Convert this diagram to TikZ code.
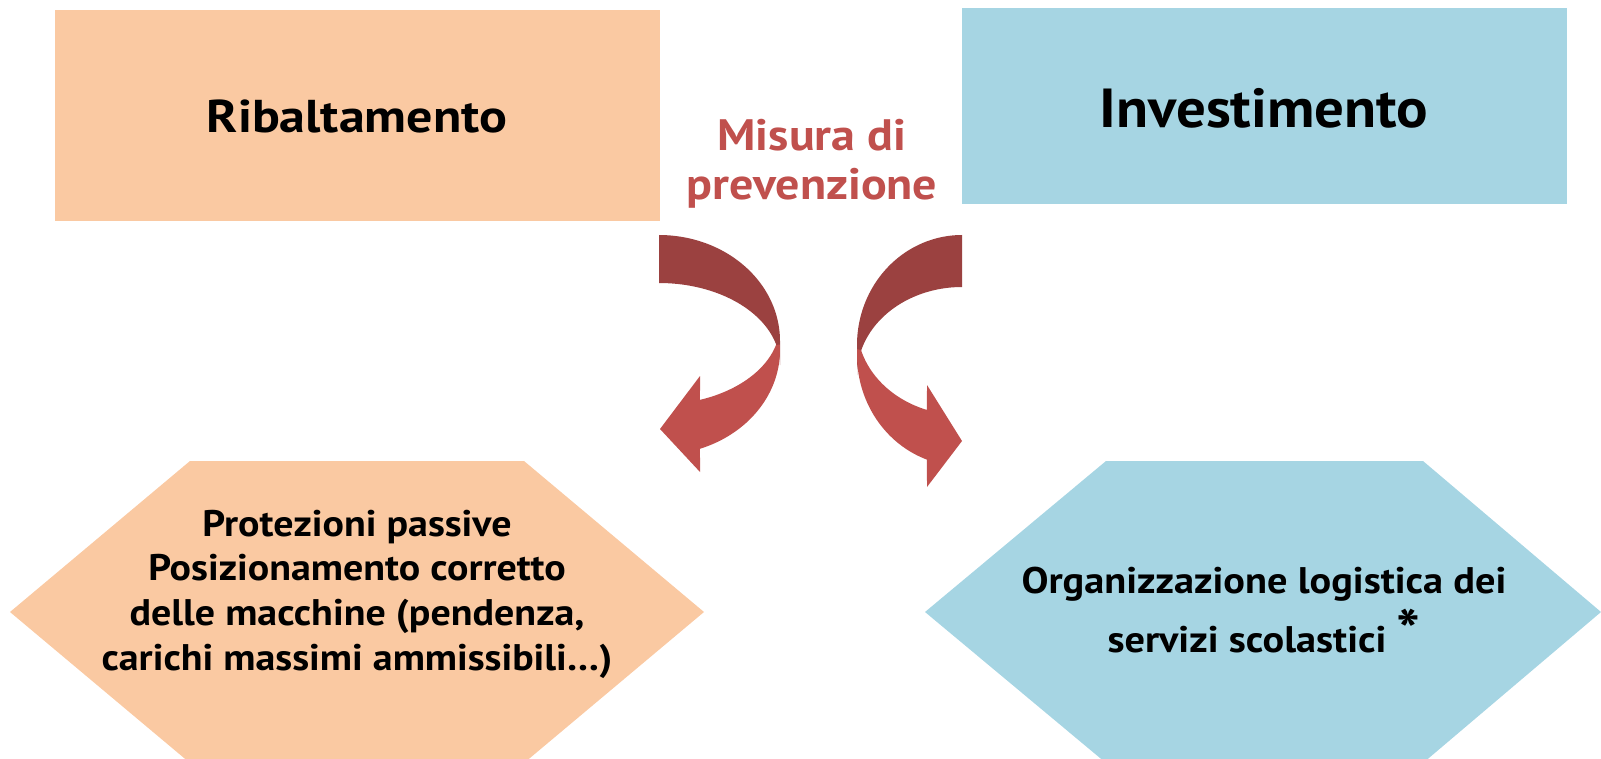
\documentclass[tikz,border=0pt]{standalone}
\usepackage{graphicx}
\usepackage{fontspec}
\setmainfont{PT Sans}
\definecolor{peach}{HTML}{FAC9A2}
\definecolor{sky}{HTML}{A6D5E3}
\definecolor{ribdark}{HTML}{9B4140}
\definecolor{riblight}{HTML}{C0504D}
\newcommand{\widetxt}[2]{\scalebox{#1}[1]{#2}}
\tikzset{
  box/.style={inner sep=0pt, anchor=north west},
  bigtxt/.style={anchor=base, inner sep=0pt, font=\bfseries\fontsize{46}{46}\selectfont},
  midtxt/.style={anchor=base, inner sep=0pt, text=riblight, font=\bfseries\fontsize{44}{44}\selectfont},
  hextxt/.style={anchor=base, inner sep=0pt, font=\bfseries\fontsize{37}{37}\selectfont},
}
\begin{document}
\begin{tikzpicture}[x=1pt,y=-1pt]
\useasboundingbox (0,0) rectangle (1601,759);
\clip (0,0) rectangle (1601,759);
% top boxes
\node[box, fill=peach, minimum width=605pt, minimum height=211pt] (rib) at (55,10) {};
\node[box, fill=sky, minimum width=605pt, minimum height=196pt] (inv) at (962,8) {};
\node[bigtxt] (ribt) at (357,133) {\widetxt{1.13}{Ribaltamento}};
\node[bigtxt, font=\bfseries\fontsize{55}{55}\selectfont] (invt) at (1264,128) {\widetxt{1.07}{Investimento}};
\node[midtxt] (mis1) at (812,151) {\widetxt{1.09}{Misura di}};
\node[midtxt] (mis2) at (812,200) {\widetxt{1.09}{prevenzione}};
% hexagons
\fill[peach] (190,461) -- (524,461) -- (704,612) -- (524,763) -- (190,763) -- (10,612) -- cycle;
\fill[sky] (1106,461) -- (1423,461) -- (1601,612) -- (1423,763) -- (1106,763) -- (925,612) -- cycle;
\node[hextxt] (p1) at (357,536) {\widetxt{1.08}{Protezioni passive}};
\node[hextxt] (p2) at (357,580) {\widetxt{1.08}{Posizionamento corretto}};
\node[hextxt] (p3) at (357,625) {\widetxt{1.08}{delle macchine (pendenza,}};
\node[hextxt] (p4) at (357,670) {\widetxt{1.08}{carichi massimi ammissibili\ldots)}};
\node[hextxt] (o1) at (1264,593) {\widetxt{1.09}{Organizzazione logistica dei}};
\node[hextxt] (o2) at (1264,652) {\widetxt{1.09}{servizi scolastici \raisebox{1pt}{\fontsize{58}{58}\selectfont *}}};
% left ribbon arrow
\fill[ribdark] plot[domain=-90:0, variable=\t, samples=50] ({659+121*cos(\t)},{341+106*sin(\t)})
  -- plot[domain=0:-90, variable=\t, samples=50] ({659+121*cos(\t)},{365+82*sin(\t)}) -- cycle;
\fill[riblight] plot[domain=14.8:70.2, variable=\t, samples=40] ({659+121*cos(\t)},{324.6+80*sin(\t)})
  -- (700,376) -- (660,429) -- (700,472)
  -- plot[domain=70.2:-3, variable=\t, samples=40] ({659+121*cos(\t)},{350+105*sin(\t)}) -- cycle;
% right ribbon arrow
\fill[ribdark] plot[domain=-90:0, variable=\t, samples=50] ({962-105*cos(\t)},{345+110*sin(\t)})
  -- plot[domain=0:-90, variable=\t, samples=50] ({962-105*cos(\t)},{375+88*sin(\t)}) -- cycle;
\fill[riblight] plot[domain=15.9:70.5, variable=\t, samples=40] ({962-105*cos(\t)},{325.5+89.6*sin(\t)})
  -- (927,385) -- (962,441) -- (927,487)
  -- plot[domain=70.5:-3, variable=\t, samples=40] ({962-105*cos(\t)},{355+111*sin(\t)}) -- cycle;
\end{tikzpicture}
\end{document}
